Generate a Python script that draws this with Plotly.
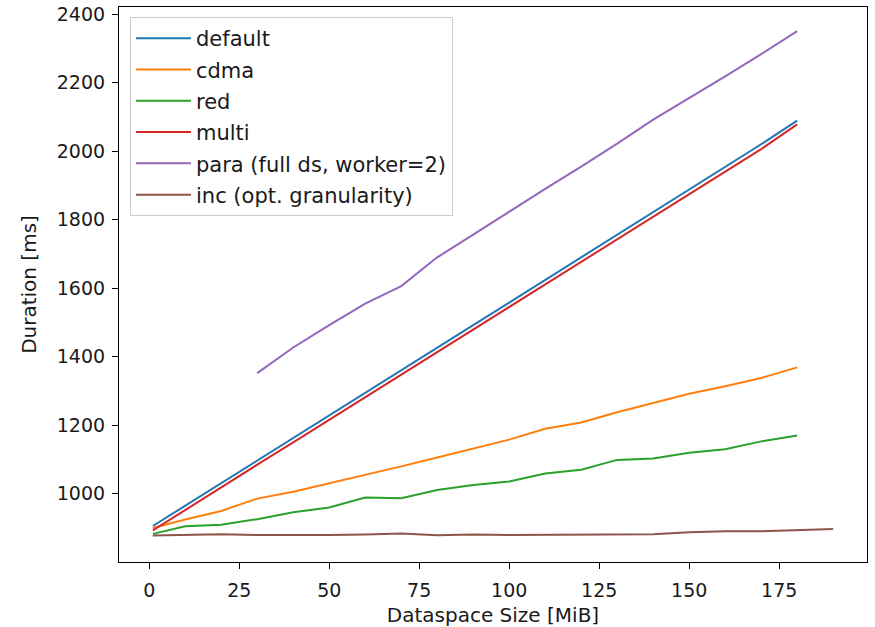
import plotly.graph_objects as go

x_main = [1, 10, 20, 30, 40, 50, 60, 70, 80, 90, 100, 110, 120, 130, 140, 150, 160, 170, 180]
x_para = [30, 40, 50, 60, 70, 80, 90, 100, 110, 120, 130, 140, 150, 160, 170, 180]
x_inc = [1, 10, 20, 30, 40, 50, 60, 70, 80, 90, 100, 110, 120, 130, 140, 150, 160, 170, 180, 190]

default = [906, 965, 1031, 1097, 1163, 1229, 1295, 1361, 1426, 1492, 1558, 1624, 1690, 1756, 1822, 1888, 1954, 2020, 2089]
cdma = [900, 925, 950, 986, 1006, 1030, 1055, 1080, 1106, 1131, 1158, 1190, 1208, 1238, 1265, 1292, 1314, 1338, 1369]
red = [883, 905, 910, 926, 946, 960, 989, 987, 1011, 1026, 1036, 1059, 1070, 1099, 1103, 1120, 1130, 1153, 1170]
multi = [893, 953, 1019, 1085, 1150, 1216, 1281, 1347, 1413, 1479, 1545, 1610, 1676, 1742, 1808, 1874, 1940, 2006, 2078]
para = [1352, 1427, 1492, 1555, 1606, 1690, 1756, 1824, 1890, 1955, 2022, 2092, 2154, 2218, 2283, 2350]
inc = [878, 879, 882, 880, 879, 880, 881, 884, 879, 881, 880, 880, 881, 882, 882, 888, 891, 891, 895, 897]

x_ticks = [0, 25, 50, 75, 100, 125, 150, 175]
y_ticks = [1000, 1200, 1400, 1600, 1800, 2000, 2200, 2400]

series = [
    ("default", x_main, default, "#1f77b4"),
    ("cdma", x_main, cdma, "#ff7f0e"),
    ("red", x_main, red, "#2ca02c"),
    ("multi", x_main, multi, "#d62728"),
    ("para (full ds, worker=2)", x_para, para, "#9467bd"),
    ("inc (opt. granularity)", x_inc, inc, "#8c564b"),
]

fig = go.Figure()
for name, xs, ys, col in series:
    fig.add_trace(go.Scatter(x=xs, y=ys, mode="lines", name=name, legendgroup=name,
                             line=dict(color=col, width=2)))

TXT = "#1a1a1a"
axis_common = dict(showline=True, linecolor="black", linewidth=1.2, mirror=True,
                   ticks="outside", ticklen=6, tickcolor="black", tickwidth=1.2,
                   showgrid=False, zeroline=False, automargin=False,
                   tickfont=dict(size=19, color=TXT))

fig.update_layout(
    width=875, height=627,
    margin=dict(l=119, r=8, t=7, b=65),
    paper_bgcolor="white", plot_bgcolor="white",
    font=dict(family="DejaVu Sans", size=19, color=TXT),
    xaxis=dict(range=[-8.4, 199.4], tickvals=x_ticks, ticklabelstandoff=5,
               title=dict(text="Dataspace Size [MiB]", font=dict(size=20, color=TXT), standoff=9),
               **axis_common),
    yaxis=dict(range=[801, 2420.5], tickvals=y_ticks, ticklabelstandoff=3,
               title=dict(text="Duration [ms]", font=dict(size=20, color=TXT), standoff=14),
               **axis_common),
    legend=dict(x=0.0147, y=0.982, xanchor="left", yanchor="top",
                bgcolor="white", bordercolor="#cccccc", borderwidth=1,
                traceorder="grouped", tracegroupgap=1, itemwidth=55,
                font=dict(size=21, color=TXT)),
    showlegend=True,
)

fig.write_html("out.html", config={"displayModeBar": False},
               post_script="document.body.style.margin='0';")
